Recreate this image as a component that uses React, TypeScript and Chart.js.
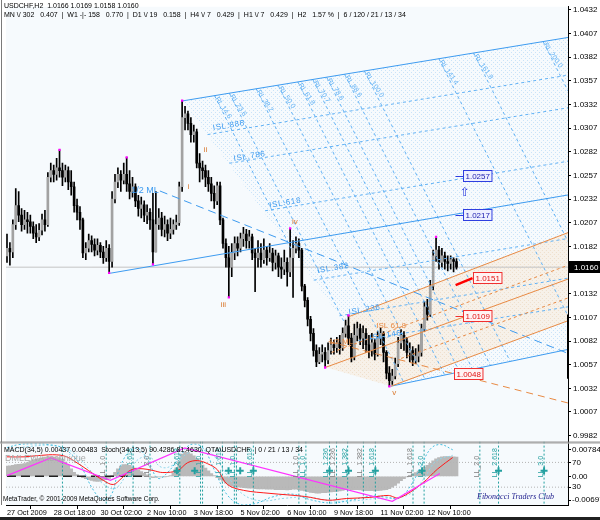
import React, { useEffect, useRef } from 'react';
import { Chart, registerables } from 'chart.js';
Chart.register(...registerables);

// ---------------- data ----------------
const FIRST_OPEN = 1.0172;
const CLOSES = [1.0180,1.0176,1.0205,1.0225,1.0215,1.0205,1.0210,1.0208,1.0203,1.0196,1.0192,1.0199,1.0210,1.0205,1.0255,1.0262,1.0258,1.0265,1.0262,1.0255,1.0262,1.0250,1.0245,1.0225,1.0218,1.0210,1.0175,1.0180,1.0188,1.0184,1.0178,1.0183,1.0176,1.0170,1.0180,1.0166,1.0232,1.0250,1.0258,1.0252,1.0258,1.0248,1.0240,1.0245,1.0230,1.0222,1.0226,1.0215,1.0218,1.0210,1.0176,1.0205,1.0212,1.0200,1.0205,1.0196,1.0200,1.0205,1.0207,1.0245,1.0318,1.0322,1.0312,1.0300,1.0303,1.0270,1.0265,1.0262,1.0255,1.0248,1.0238,1.0230,1.0246,1.0210,1.0185,1.0170,1.0160,1.0175,1.0185,1.0180,1.0190,1.0195,1.0188,1.0192,1.0175,1.0170,1.0175,1.0168,1.0178,1.0170,1.0175,1.0165,1.0172,1.0160,1.0158,1.0165,1.0155,1.0170,1.0180,1.0185,1.0178,1.0140,1.0125,1.0105,1.0090,1.0072,1.0060,1.0068,1.0070,1.0062,1.0072,1.0078,1.0075,1.0080,1.0075,1.0090,1.0098,1.0085,1.0065,1.0088,1.0095,1.0085,1.0090,1.0078,1.0072,1.0080,1.0068,1.0085,1.0090,1.0070,1.0048,1.0040,1.0045,1.0058,1.0080,1.0088,1.0082,1.0070,1.0072,1.0062,1.0066,1.0070,1.0095,1.0118,1.0110,1.0140,1.0172,1.0178,1.0165,1.0172,1.0166,1.0164,1.0168,1.0166,1.0160];
const HIGHS = [1.0195,1.0186,1.0210,1.0243,1.0240,1.0222,1.0220,1.0218,1.0215,1.0208,1.0205,1.0206,1.0216,1.0220,1.0260,1.0270,1.0268,1.0275,1.0284,1.0270,1.0268,1.0266,1.0262,1.0250,1.0232,1.0224,1.0212,1.0186,1.0195,1.0193,1.0190,1.0190,1.0186,1.0182,1.0188,1.0184,1.0240,1.0258,1.0265,1.0262,1.0270,1.0276,1.0262,1.0255,1.0248,1.0236,1.0234,1.0230,1.0226,1.0222,1.0238,1.0240,1.0222,1.0218,1.0214,1.0210,1.0212,1.0210,1.0215,1.0250,1.0336,1.0330,1.0325,1.0318,1.0310,1.0306,1.0280,1.0272,1.0268,1.0262,1.0255,1.0246,1.0250,1.0250,1.0212,1.0190,1.0182,1.0185,1.0192,1.0192,1.0196,1.0202,1.0200,1.0199,1.0195,1.0180,1.0188,1.0185,1.0190,1.0182,1.0185,1.0180,1.0178,1.0175,1.0170,1.0178,1.0170,1.0201,1.0188,1.0192,1.0190,1.0180,1.0142,1.0128,1.0108,1.0095,1.0078,1.0075,1.0078,1.0075,1.0080,1.0085,1.0083,1.0086,1.0088,1.0096,1.0104,1.0109,1.0090,1.0100,1.0102,1.0100,1.0098,1.0095,1.0088,1.0090,1.0084,1.0092,1.0096,1.0092,1.0072,1.0055,1.0052,1.0064,1.0086,1.0094,1.0092,1.0086,1.0080,1.0076,1.0074,1.0078,1.0100,1.0124,1.0126,1.0146,1.0178,1.0192,1.0182,1.0180,1.0176,1.0172,1.0172,1.0170,1.0169];
const LOWS = [1.0165,1.0162,1.0170,1.0200,1.0208,1.0198,1.0200,1.0196,1.0196,1.0190,1.0186,1.0188,1.0194,1.0198,1.0203,1.0250,1.0250,1.0252,1.0255,1.0246,1.0250,1.0242,1.0236,1.0218,1.0210,1.0200,1.0170,1.0168,1.0176,1.0176,1.0172,1.0173,1.0170,1.0164,1.0166,1.0154,1.0160,1.0228,1.0244,1.0240,1.0248,1.0240,1.0232,1.0234,1.0224,1.0214,1.0212,1.0208,1.0206,1.0200,1.0163,1.0176,1.0200,1.0193,1.0192,1.0188,1.0190,1.0195,1.0200,1.0204,1.0240,1.0305,1.0305,1.0292,1.0292,1.0265,1.0250,1.0253,1.0245,1.0240,1.0230,1.0222,1.0226,1.0205,1.0180,1.0160,1.0128,1.0150,1.0168,1.0172,1.0176,1.0182,1.0180,1.0180,1.0168,1.0134,1.0160,1.0160,1.0164,1.0162,1.0166,1.0156,1.0158,1.0150,1.0148,1.0152,1.0140,1.0150,1.0128,1.0175,1.0170,1.0135,1.0118,1.0098,1.0082,1.0066,1.0055,1.0058,1.0060,1.0054,1.0058,1.0068,1.0068,1.0070,1.0068,1.0072,1.0086,1.0078,1.0060,1.0062,1.0082,1.0078,1.0074,1.0070,1.0064,1.0066,1.0062,1.0066,1.0078,1.0060,1.0042,1.0034,1.0036,1.0042,1.0055,1.0074,1.0072,1.0064,1.0060,1.0056,1.0058,1.0060,1.0066,1.0092,1.0104,1.0108,1.0136,1.0166,1.0158,1.0160,1.0158,1.0156,1.0158,1.0155,1.0158];

const CURRENT_PRICE = 1.0160;
const PIVOTS = [[18,1.0284],[35,1.0154],[41,1.0276],[50,1.0163],[60,1.0336],[76,1.0128],[97,1.0201],[109,1.0054],[117,1.0109],[131,1.0034],[147,1.0192]];

const X_TICKS = [0,16,32,48,64,80,96,112,128,144];
const X_LABELS = ['27 Oct 2009','28 Oct 18:00','30 Oct 02:00','2 Nov 10:00','3 Nov 18:00','5 Nov 02:00','6 Nov 10:00','9 Nov 18:00','11 Nov 02:00','12 Nov 10:00'];
const Y_TICKS = [1.0432,1.0407,1.0382,1.0357,1.0332,1.0307,1.0282,1.0257,1.0232,1.0207,1.0182,1.0157,1.0132,1.0107,1.0082,1.0057,1.0032,1.0007,0.9982];
const SUB_TICK_LABELS = ['0.00784','70','0.00','30','-0.00697'];

// lines [i1, p1, i2, p2]
const BLUE_SOLID = [[60.2,1.03357,192.2,1.04027],[35.37,1.01536,192.2,1.02363],[131.6,1.00343,192.2,1.00731]];
const BLUE_LONGDASH = [[52.38,1.02405,192.2,1.00689]];
const ISL_LINES = [[68.71,1.03001,192.2,1.03629],[76.19,1.02698,192.2,1.03284],[88.44,1.02196,192.2,1.02719],[105.1,1.01463,192.2,1.01903],[113.9,1.01086,192.2,1.01484],[120.4,1.00825,192.2,1.01181]];
const RL_LINES = [[71.09,1.03413,97.62,1.01777],[76.19,1.03439,115.3,1.01034],[85.37,1.03485,136.05,1.00375],[92.86,1.03523,143.2,1.00417],[99.66,1.03557,150.0,1.00458],[104.76,1.03583,155.1,1.0049],[109.52,1.03607,159.5,1.00521],[115.65,1.03639,165.6,1.00563],[122.45,1.03673,172.4,1.00605],[147.96,1.03803,192.2,1.01086],[159.86,1.03863,192.2,1.01871],[183.67,1.03984,192.2,1.03462]];
const RL_NAMES = ['RL 14.6','RL 23.6','RL 38.2','RL 50.0','RL 61.8','RL 70.7','RL 78.6','RL 88.6','RL 100.0','RL 141.4','RL 161.8','RL 200.0'];
const ORANGE_SOLID = [[117.0,1.01076,192.2,1.01965],[109.2,1.00542,192.2,1.01474],[131.6,1.00343,192.2,1.01034]];
const ORANGE_DASH = [[111.2,1.00699,192.2,1.0162],[135.0,1.00636,192.2,1.01275]];
const ORANGE_LONGDASH = [[110.2,1.00814,192.2,1.00165]];
const RED_THICK = [[153.7,1.01411,159.5,1.01484]];
const RIGHT_BAR = [[192.2,1.0110,192.2,1.0042]];
const HATCH_POLY = [[60.2,1.03357],[192.2,1.04027],[192.2,1.00731],[131.6,1.00343]];
const BEIGE_POLY = [[117.0,1.01076],[192.2,1.01965],[192.2,1.01034],[131.6,1.00343],[109.2,1.00542]];

const ISL_LABELS = [['ISL.886',75.9,1.03096],['ISL.786',83.0,1.02771],['ISL.618',95.2,1.02279],['ISL.382',111.6,1.01589],['ISL.236',122.4,1.01149],['ISL.146',129.6,1.00877]];
const WAVE_LABELS = [['i',62.2,1.02447],['ii',68.0,1.02844],['iii',74.1,1.01202],['iv',98.6,1.02081],['v',132.7,1.0027]];
const ORANGE_LABELS = [['1/2 ML',110.2,1.00814],['ISL 61.8',126.5,1.00982]];
const PRICE_BOXES = [['1.0257',156.1,1.02562,'blue'],['1.0217',156.1,1.02154,'blue'],['1.0151',159.5,1.01484,'red'],['1.0109',156.1,1.01086,'red'],['1.0048',153.1,1.00469,'red']];

// sub window
const MACD_HIST = [0.0030,0.0031,0.0032,0.0034,0.0035,0.0036,0.0037,0.0040,0.0045,0.0048,0.0050,0.0052,0.0054,0.0056,0.0057,0.0057,0.0056,0.0055,0.0054,0.0050,0.0042,0.0033,0.0022,0.0012,0.0005,0.0000,-0.0004,-0.0007,-0.0010,-0.0012,-0.0014,-0.0015,-0.0014,-0.0012,-0.0010,-0.0006,0.0002,0.0012,0.0022,0.0030,0.0034,0.0034,0.0032,0.0028,0.0024,0.0019,0.0014,0.0009,0.0004,-0.0001,-0.0004,-0.0003,-0.0002,-0.0002,-0.0001,0.0000,0.0002,0.0010,0.0025,0.0045,0.0065,0.0072,0.0070,0.0066,0.0060,0.0052,0.0043,0.0033,0.0024,0.0016,0.0008,0.0002,-0.0004,-0.0009,-0.0014,-0.0020,-0.0025,-0.0028,-0.0030,-0.0031,-0.0032,-0.0033,-0.0034,-0.0035,-0.0035,-0.0036,-0.0037,-0.0037,-0.0037,-0.0038,-0.0038,-0.0038,-0.0039,-0.0039,-0.0039,-0.0039,-0.0040,-0.0039,-0.0038,-0.0038,-0.0039,-0.0041,-0.0043,-0.0045,-0.0047,-0.0048,-0.0049,-0.0049,-0.0048,-0.0048,-0.0047,-0.0046,-0.0045,-0.0044,-0.0043,-0.0041,-0.0039,-0.0038,-0.0039,-0.0039,-0.0039,-0.0040,-0.0041,-0.0042,-0.0042,-0.0042,-0.0043,-0.0042,-0.0041,-0.0040,-0.0039,-0.0036,-0.0032,-0.0027,-0.0020,-0.0013,-0.0007,-0.0002,0.0003,0.0007,0.0011,0.0015,0.0020,0.0026,0.0032,0.0038,0.0045,0.0051,0.0055,0.0057,0.0058,0.0058,0.0058,0.0057,0.0056];
const MACD_SIGNAL = [[0,0.0057],[5.8,0.0057],[14.3,0.0063],[19.4,0.006],[22.8,0.0046],[27.9,0.0017],[33,-0.0012],[36.4,-0.0024],[39.1,-0.0007],[42.5,0.0019],[46.6,0.0022],[50,0.0017],[53.4,0.0011],[58.5,0.0017],[61.9,0.004],[65.3,0.0046],[68.7,0.0037],[72.1,0.0019],[75.5,-0.0024],[81,-0.0041],[90.1,-0.005],[102,-0.0059],[109.9,-0.007],[116.3,-0.0065],[124.1,-0.0062],[130.6,-0.0056],[134.4,-0.0063],[142.2,-0.0021],[147.6,0.0022],[152.7,0.0055]];
const SUB_ZIGZAG = [[0,0.0002],[15,0.0054],[35.4,-0.0012],[60.9,0.0083],[132,-0.0073],[148.3,0.0008]];
const STOCH_MAIN = [[0,94],[4.1,98.8],[9.2,100],[14.3,98.8],[19.4,92.4],[24.5,70],[29.6,25.2],[33,9.2],[35.7,17.2],[38.1,54],[41.5,86],[44.9,92.4],[48.3,73.2],[51.7,44.4],[55.1,54],[59.5,81.2],[62.9,98.8],[67,94],[71.1,57.2],[75.5,17.2],[80.6,1.2],[85.7,4.4],[90.8,14],[97.6,18.8],[104.4,9.2],[111.2,4.4],[118,9.2],[124.8,15.6],[129.9,14],[134.4,12.4],[138.4,33.2],[141.8,63.6],[145.2,92.4],[148.6,98.8],[152.7,90.4]];
const STOCH_SIGNAL = [[0,90],[8,96],[16,97],[22,88],[28,60],[33,35],[37,28],[41,50],[45,75],[49,78],[53,62],[57,66],[62,85],[67,93],[71,80],[76,45],[81,18],[87,8],[95,12],[103,14],[111,8],[119,8],[127,12],[134,13],[139,22],[143,45],[147,72],[152.7,81.5]];
const SUB_VLINES = [19,34,43.2,49,59.2,66.3,67,73.8,77.9,78.6,84.4,100,102.4,110.5,112.9,116.7,122.1,126.2,139.1,142.9,162,168.4,184];
const SUB_VLABELS = [[34,'LL_1.0','g'],[43.2,'LL_1.618','t'],[49,'LL_2.0','g'],[59.2,'LL_2.618','t'],[67,'LL_1.0','t'],[73.8,'LL_1.618','t'],[78.6,'LL_1.0','t'],[84.4,'LL_1.618','t'],[100,'LL_1.0','g'],[102.4,'LL_1.0','t'],[110.5,'LL_1.236','t'],[112.9,'LL_1.236','g'],[116.7,'LL_1.382','t'],[122.1,'LL_1.382','g'],[126.2,'LL_1.618','t'],[139.1,'LL_1.618','g'],[142.9,'LL_2.0','t'],[162,'LL_2.0','g'],[168.4,'LL_2.618','t'],[184,'LL_3.0','t']];
const SUB_MARKERS = [58.2,64.3,75.9,79.9,84.4,110.5,117,126.2,142.2,168.4,184];
const MARKER_LEVEL = 0.0016;
const ZERO_DASH = [0, 46.6];

// ---------------- layout constants ----------------
const X_MIN = -0.34, X_MAX = 192.2;
const Y_MIN = 0.99757, Y_MAX = 1.04351;
const Y2_MIN = -0.0084, Y2_MAX = 0.01016;
const FONT = '"Liberation Sans", Arial, sans-serif';
const BG = '#f6fafd';
const BLUE = '#3d9bf0';
const LBLUE = '#62b2f5';
const ORANGE = '#e88a44';
const TEAL = '#23a0a0';

const stochToAxis = (s: number) => 0.00784 - 0.00029 * (13 + (70 - s) * 0.625);

function segs(arr: number[][]) {
  const out: any[] = [];
  arr.forEach(([a, b, c, d]) => { out.push({ x: a, y: b }, { x: c, y: d }, { x: c, y: null }); });
  return out;
}
function lineDS(data: any[], color: string, width: number, dash: number[], order: number, axis = 'y', extra: any = {}) {
  return { type: 'line', data, borderColor: color, borderWidth: width, borderDash: dash, pointRadius: 0, fill: false, order, yAxisID: axis, spanGaps: false, ...extra };
}

function makePattern(ctx: CanvasRenderingContext2D, size: number, bg: string | null, fg: string, pts: number[][]) {
  const c = document.createElement('canvas');
  c.width = size; c.height = size;
  const g = c.getContext('2d')!;
  if (bg) { g.fillStyle = bg; g.fillRect(0, 0, size, size); }
  g.fillStyle = fg;
  pts.forEach(([x, y]) => g.fillRect(x, y, 1, 1));
  return ctx.createPattern(c, 'repeat');
}

const mt4Plugin = {
  id: 'mt4',
  beforeDraw(chart: any) {
    const { ctx, chartArea } = chart;
    const ys = chart.scales.y, y2 = chart.scales.y2;
    ctx.save();
    ctx.fillStyle = '#ffffff';
    ctx.fillRect(0, 0, chart.width, chart.height);
    ctx.fillStyle = BG;
    ctx.fillRect(chartArea.left, ys.top, chartArea.right - chartArea.left, ys.bottom - ys.top);
    ctx.fillRect(chartArea.left, y2.top, chartArea.right - chartArea.left, y2.bottom - y2.top);
    ctx.restore();
  },
  afterDatasetsDraw(chart: any) {
    const ctx = chart.ctx;
    const X = (v: number) => chart.scales.x.getPixelForValue(v);
    const Y = (v: number) => chart.scales.y.getPixelForValue(v);
    const Y2 = (v: number) => chart.scales.y2.getPixelForValue(v);
    ctx.save();
    ctx.textBaseline = 'middle';
    // 1/2 ML blue
    ctx.font = `9px ${FONT}`;
    ctx.fillStyle = BLUE; ctx.textAlign = 'right';
    ctx.fillText('1/2 ML', X(52.0), Y(1.02415));
    // ISL labels
    ctx.font = `8px ${FONT}`;
    ctx.textAlign = 'center';
    ISL_LABELS.forEach(([t, i, p]: any) => {
      ctx.save(); ctx.translate(X(i), Y(p)); ctx.rotate(-0.163);
      ctx.fillStyle = BLUE; ctx.fillText(t.split('').join(String.fromCharCode(8202)), 0, 0); ctx.restore();
    });
    // RL labels
    ctx.font = `7px ${FONT}`;
    ctx.textAlign = 'left';
    RL_LINES.forEach((l, k) => {
      ctx.save(); ctx.translate(X(l[0]) + 2, Y(l[1]) + 2); ctx.rotate(0.98);
      ctx.fillStyle = LBLUE; ctx.fillText(RL_NAMES[k], 0, 0); ctx.restore();
    });
    // orange labels
    ctx.font = `8px ${FONT}`;
    ctx.fillStyle = ORANGE;
    ORANGE_LABELS.forEach(([t, i, p]: any) => { ctx.fillText(t, X(i), Y(p)); });
    ctx.textAlign = 'center';
    ctx.font = `8px ${FONT}`;
    ctx.fillStyle = '#d9782d';
    WAVE_LABELS.forEach(([t, i, p]: any) => { ctx.fillText(t, X(i), Y(p)); });
    // price boxes
    ctx.font = `8px ${FONT}`;
    ctx.textAlign = 'left';
    PRICE_BOXES.forEach(([t, i, p, kind]: any) => {
      const x = Math.round(X(i)) + 0.5, y = Math.round(Y(p));
      const w = ctx.measureText(t).width + 4, h = 11;
      const border = kind === 'blue' ? '#2f3fe0' : '#f03030';
      const fill = kind === 'blue' ? '#eef0ff' : '#fff2f2';
      const tc = kind === 'blue' ? '#2020b0' : '#e01010';
      if (t !== '1.0048' && t !== '1.0151') {
        ctx.strokeStyle = border; ctx.lineWidth = 1; ctx.beginPath();
        ctx.moveTo(x - 8, y + 0.5); ctx.lineTo(x, y + 0.5); ctx.stroke();
      }
      ctx.fillStyle = fill; ctx.fillRect(x, y - h / 2, w, h);
      ctx.strokeStyle = border; ctx.strokeRect(x, y - h / 2, w, h);
      ctx.fillStyle = tc; ctx.fillText(t, x + 2, y + 0.5);
    });
    // arrow
    ctx.font = `12px "DejaVu Sans", sans-serif`;
    ctx.fillStyle = '#2a3ae0'; ctx.textAlign = 'center';
    ctx.fillText('\u21E7', X(156.9), Y(1.02384));
    // sub vertical labels
    ctx.font = `7px ${FONT}`;
    ctx.textAlign = 'left';
    SUB_VLABELS.forEach(([i, t, c]: any) => {
      ctx.save(); ctx.translate(X(i) - 3, Y2(-0.0003)); ctx.rotate(-Math.PI / 2);
      ctx.fillStyle = c === 'g' ? '#7d7d7d' : TEAL; ctx.fillText(t, 0, 0); ctx.restore();
    });
    // sub texts
    ctx.textAlign = 'left';
    ctx.font = `9px ${FONT}`; ctx.fillStyle = '#a9a9a9';
    ctx.fillText('DMLEWA technique', 5, 459);
    ctx.font = `7px ${FONT}`; ctx.fillStyle = '#000';
    ctx.fillText('MACD(34,5) 0.00437 0.00483  Stoch(34,13,5) 90.4286 81.4630  QTA\\USDCHF  | 0 / 21 / 13 / 34', 4, 450);
    ctx.font = `6.5px ${FONT}`;
    ctx.fillText('MetaTrader, \u00A9 2001-2009 MetaQuotes Software Corp.', 3, 499);
    ctx.font = `italic 8px "Liberation Serif", serif`; ctx.fillStyle = '#1c1c8c';
    ctx.fillText('Fibonacci Traders Club', 477, 497);
    ctx.restore();
  },
  afterDraw(chart: any) {
    const ctx = chart.ctx;
    const ys = chart.scales.y;
    const { chartArea } = chart;
    ctx.save();
    // frames
    ctx.strokeStyle = '#7a7a7a'; ctx.lineWidth = 1;
    ctx.beginPath();
    ctx.moveTo(1.5, 0); ctx.lineTo(1.5, 505);
    ctx.moveTo(0, ys.bottom + 0.5); ctx.lineTo(600, ys.bottom + 0.5);
    ctx.stroke();
    ctx.strokeStyle = '#b0b0b0';
    ctx.beginPath(); ctx.moveTo(0, ys.bottom + 1.5); ctx.lineTo(600, ys.bottom + 1.5); ctx.stroke();
    ctx.fillStyle = '#202020'; ctx.fillRect(0, 517, 600, 3);
    // current price box on axis
    const py = Math.round(ys.getPixelForValue(CURRENT_PRICE));
    ctx.fillStyle = '#000'; ctx.fillRect(chartArea.right + 1, py - 6, 31, 12);
    ctx.font = `8px ${FONT}`; ctx.fillStyle = '#fff'; ctx.textBaseline = 'middle'; ctx.textAlign = 'left';
    ctx.fillText(CURRENT_PRICE.toFixed(4), chartArea.right + 6, py + 0.5);
    // header
    ctx.fillStyle = '#000'; ctx.font = `7px ${FONT}`;
    ctx.fillText('USDCHF,H2  1.0166 1.0169 1.0158 1.0160', 4, 6);
    ctx.fillText('MN \\/ 302   0.407  |  W1 -|- 158   0.770  |  D1 \\/ 19   0.158  |  H4 \\/ 7   0.429  |  H1 \\/ 7   0.429  |  H2   1.57 %  |  6 / 120 / 21 / 13 / 34', 4, 15);
    ctx.restore();
  },
};

export default function App() {
  const ref = useRef<HTMLCanvasElement>(null);
  useEffect(() => {
    document.body.style.margin = '0';
    const canvas = ref.current!;
    const ctx = canvas.getContext('2d')!;
    const hatch = makePattern(ctx, 4, null, '#c9e3f8', [[3, 0], [1, 2]]);
    const beige = makePattern(ctx, 4, 'rgba(246,240,231,0.92)', '#efe0cd', [[0, 0], [2, 2]]);

    const opens = CLOSES.map((c, i) => (i === 0 ? FIRST_OPEN : CLOSES[i - 1]));
    const wicks = CLOSES.map((c, i) => ({ x: i, y: [LOWS[i], HIGHS[i]] }));
    const bodies = CLOSES.map((c, i) => ({ x: i, y: [Math.min(opens[i], c), Math.max(opens[i], c)] }));
    const bodyColors = CLOSES.map((c, i) => (c >= opens[i] ? '#a2a2a2' : '#000000'));
    const poly = (arr: number[][]) => arr.map(([x, y]) => ({ x, y }));
    const ptsSub = (arr: number[][], f = (v: number) => v) => arr.map(([x, y]) => ({ x, y: f(y) }));
    const vlines: any[] = [];
    SUB_VLINES.forEach((i) => { vlines.push({ x: i, y: Y2_MAX }, { x: i, y: Y2_MIN }, { x: i, y: null }); });

    const datasets: any[] = [
      { type: 'line', data: poly(HATCH_POLY), fill: 'shape', backgroundColor: hatch, borderColor: 'rgba(0,0,0,0)', borderWidth: 0, pointRadius: 0, order: 200, yAxisID: 'y' },
      { type: 'line', data: poly(BEIGE_POLY), fill: 'shape', backgroundColor: beige, borderColor: 'rgba(0,0,0,0)', borderWidth: 0, pointRadius: 0, order: 190, yAxisID: 'y' },
      lineDS([{ x: X_MIN, y: CURRENT_PRICE }, { x: X_MAX, y: CURRENT_PRICE }], '#c4c4c4', 1, [], 180),
      // sub window
      { type: 'bar', data: MACD_HIST.map((v, i) => ({ x: i, y: v })), backgroundColor: '#b9b9b9', barThickness: 3, grouped: false, order: 170, yAxisID: 'y2' },
      lineDS(vlines, TEAL, 1, [2, 2], 165, 'y2'),
      lineDS([{ x: X_MIN, y: stochToAxis(70) }, { x: X_MAX, y: stochToAxis(70) }, { x: X_MAX, y: null }, { x: X_MIN, y: stochToAxis(30) }, { x: X_MAX, y: stochToAxis(30) }], '#b4b4b4', 1, [1, 2], 166, 'y2'),
      lineDS([{ x: ZERO_DASH[0], y: 0 }, { x: ZERO_DASH[1], y: 0 }], '#202020', 1.5, [9, 5], 160, 'y2'),
      lineDS(ptsSub(STOCH_SIGNAL, stochToAxis), '#8fd6ea', 1, [2, 2], 158, 'y2', { tension: 0.4 }),
      lineDS(ptsSub(STOCH_MAIN, stochToAxis), '#45bfe0', 1, [2, 2], 157, 'y2', { tension: 0.4 }),
      lineDS(ptsSub(MACD_SIGNAL), '#ff1a1a', 1, [], 155, 'y2', { tension: 0.35 }),
      lineDS(ptsSub(SUB_ZIGZAG), '#ff33ff', 1.2, [], 154, 'y2'),
      { type: 'line', data: SUB_MARKERS.map((i) => ({ x: i, y: MARKER_LEVEL })), showLine: false, pointStyle: 'cross', pointRadius: 3.5, pointBorderColor: TEAL, pointBorderWidth: 2, order: 150, yAxisID: 'y2' },
      // candles
      { type: 'bar', data: wicks, backgroundColor: '#000', barThickness: 1, grouped: false, order: 60, yAxisID: 'y' },
      { type: 'bar', data: bodies, backgroundColor: bodyColors, barThickness: 2, minBarLength: 1, grouped: false, order: 59, yAxisID: 'y' },
      // lines
      lineDS(segs(ISL_LINES), LBLUE, 1, [3, 3], 40),
      lineDS(segs(RL_LINES), LBLUE, 1, [3, 3], 39),
      lineDS(segs(BLUE_LONGDASH), BLUE, 1, [8, 5], 38),
      lineDS(segs(BLUE_SOLID), BLUE, 1, [], 37),
      lineDS(segs(ORANGE_DASH), ORANGE, 1, [3, 3], 36),
      lineDS(segs(ORANGE_LONGDASH), ORANGE, 1, [7, 5], 35),
      lineDS(segs(ORANGE_SOLID), ORANGE, 1, [], 34),
      lineDS(segs(RED_THICK), '#ff0000', 2.5, [], 33),
      lineDS(segs(RIGHT_BAR), '#000', 2, [], 32),
      { type: 'line', data: PIVOTS.map(([x, y]) => ({ x, y })), showLine: false, pointStyle: 'rect', pointRadius: 1.6, pointBackgroundColor: '#ff00ff', pointBorderColor: '#ff00ff', pointBorderWidth: 0, order: 10, yAxisID: 'y' },
    ];

    const tickFont = { family: FONT, size: 8 };
    const chart = new Chart(ctx, {
      type: 'line',
      data: { datasets },
      options: {
        animation: false,
        responsive: false,
        maintainAspectRatio: false,
        layout: { padding: { left: 2, top: 2, right: 0, bottom: 0 } },
        plugins: { legend: { display: false }, tooltip: { enabled: false } },
        events: [],
        scales: {
          x: {
            type: 'linear', min: X_MIN, max: X_MAX, offset: false,
            grid: { display: true, drawOnChartArea: false, drawTicks: true, tickLength: 4, color: '#000' },
            border: { display: true, color: '#000' },
            ticks: { autoSkip: false, maxRotation: 0, minRotation: 0, align: 'start', padding: 0, font: { family: FONT, size: 7.3 }, color: '#000', callback: (v: any, idx: number) => X_LABELS[idx] },
            afterBuildTicks: (s: any) => { s.ticks = X_TICKS.map((v) => ({ value: v })); },
            afterFit: (s: any) => { s.height = 15; },
          },
          y: {
            type: 'linear', position: 'right', stack: 'win', stackWeight: 439, min: Y_MIN, max: Y_MAX, offset: false,
            grid: { display: true, drawOnChartArea: false, drawTicks: true, tickLength: 3, color: '#000' },
            border: { display: true, color: '#000' },
            ticks: { autoSkip: false, padding: 2, font: tickFont, color: '#000', callback: (v: any) => Number(v).toFixed(4) },
            afterBuildTicks: (s: any) => { s.ticks = Y_TICKS.map((v) => ({ value: v })); },
            afterFit: (s: any) => { s.width = 32; },
          },
          y2: {
            type: 'linear', position: 'right', stack: 'win', stackWeight: 64, min: Y2_MIN, max: Y2_MAX, offset: false,
            grid: { display: true, drawOnChartArea: false, drawTicks: true, tickLength: 3, color: '#000' },
            border: { display: true, color: '#000' },
            ticks: { autoSkip: false, padding: 1, font: tickFont, color: '#000', callback: (v: any, idx: number) => SUB_TICK_LABELS[idx] },
            afterBuildTicks: (s: any) => { s.ticks = [0.00784, stochToAxis(70), 0, stochToAxis(30), -0.00697].map((v) => ({ value: v })); },
            afterFit: (s: any) => { s.width = 32; },
          },
        },
      } as any,
      plugins: [mt4Plugin],
    } as any);
    return () => chart.destroy();
  }, []);
  return (
    <div style={{ width: 600, height: 520 }}>
      <canvas ref={ref} width={600} height={520} style={{ display: 'block', width: 600, height: 520 }} />
    </div>
  );
}
